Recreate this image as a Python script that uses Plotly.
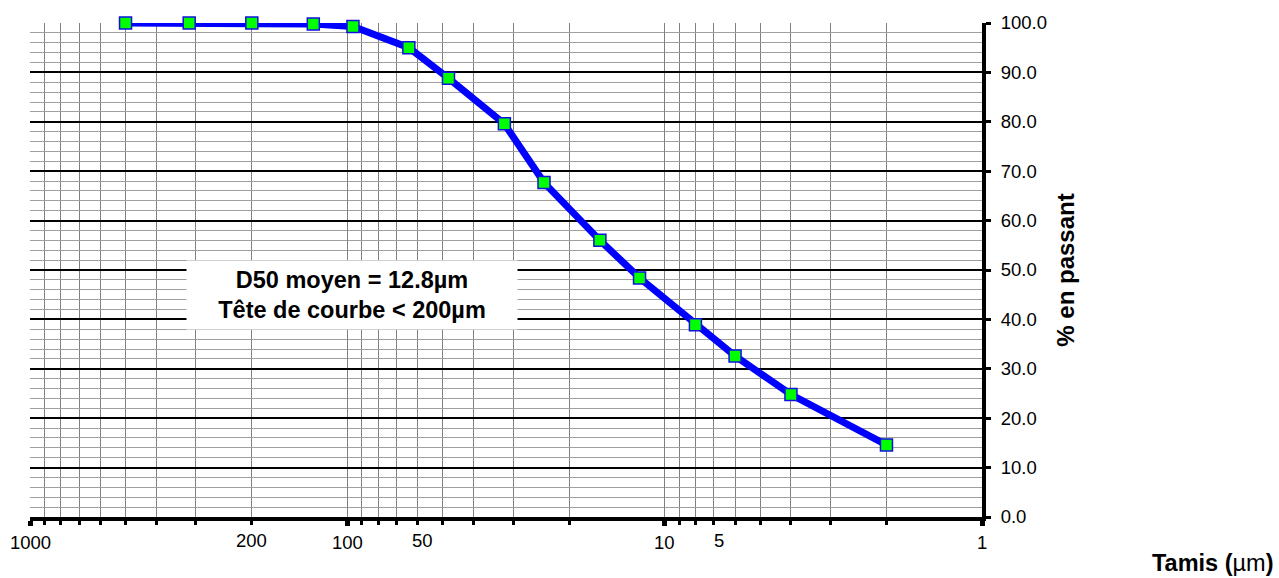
import math
import plotly.graph_objects as go

# ---- data ----
sizes_um = [500, 315, 200, 128, 96, 64, 48, 32, 24, 16, 12, 8, 6, 4, 2]
passing_pct = [100.0, 100.0, 100.0, 99.8, 99.3, 95.0, 88.8, 79.6, 67.7, 56.0, 48.4, 38.9, 32.6, 24.8, 14.6]

x_label_vals = [1000, 200, 100, 50, 10, 5, 1]
x_label_text = ["1000", "200", "100", "50", "10", "5", "1"]
y_tick_vals = [0, 10, 20, 30, 40, 50, 60, 70, 80, 90, 100]
y_tick_text = ["%.1f" % v for v in y_tick_vals]

note_lines = ["D50 moyen = 12.8µm", "Tête de courbe < 200µm"]
y_title = "% en passant"

# label offsets (style) as drawn in the original
label_xshift = {"50": -20, "5": -41}
label_yshift_raise = {"200": 2, "50": 2, "5": 2}

major_x = [1000, 100, 10, 1]
minor_x = [k * 10 ** d for d in range(0, 3) for k in range(2, 10)]

FONT = "Liberation Sans, Arial, sans-serif"
TICK_SIZE = 18.5

fig = go.Figure()
fig.add_trace(go.Scatter(
    x=sizes_um, y=passing_pct, mode="lines+markers",
    line=dict(color="#0000FF", width=7),
    marker=dict(symbol="square", size=12, color="#00FF00",
                line=dict(color="#1010E0", width=1.5)),
    cliponaxis=False, showlegend=False,
))

annotations = []
for v, t in zip(x_label_vals, x_label_text):
    annotations.append(dict(
        x=math.log10(v), y=0, xref="x", yref="paper",
        text=t, showarrow=False, xanchor="center", yanchor="middle",
        xshift=label_xshift.get(t, 0),
        yshift=-25 + label_yshift_raise.get(t, 0),
        font=dict(family=FONT, size=TICK_SIZE, color="#000000"),
    ))

annotations.append(dict(
    x=0.338, y=0.449, xref="paper", yref="paper",
    text="<br>".join("<b>%s</b>" % s for s in note_lines),
    showarrow=False, xanchor="center", yanchor="middle",
    bgcolor="#FFFFFF", width=322, height=60, borderpad=4,
    font=dict(family=FONT, size=23.5, color="#000000"),
))
annotations.append(dict(
    x=1.2426, y=-0.093, xref="paper", yref="paper",
    text="<b>Tamis (</b>µm<b>)</b>", showarrow=False,
    xanchor="center", yanchor="middle",
    font=dict(family=FONT, size=23.5, color="#000000"),
))

fig.update_layout(
    width=1279, height=578,
    margin=dict(l=30, r=297, t=23, b=61),
    paper_bgcolor="#FFFFFF", plot_bgcolor="#FFFFFF",
    font=dict(family=FONT, color="#000000"),
    annotations=annotations,
    xaxis=dict(
        type="log", range=[3, 0],
        tickvals=major_x, showticklabels=False,
        ticks="outside", ticklen=5, tickwidth=5, tickcolor="#000000",
        showgrid=True, gridcolor="#808080", gridwidth=1,
        showline=True, linecolor="#000000", linewidth=4,
        zeroline=False,
        minor=dict(tickvals=minor_x, ticks="outside", ticklen=4, tickwidth=3,
                   tickcolor="#000000", showgrid=True, gridcolor="#808080", gridwidth=1),
    ),
    yaxis=dict(
        side="right", range=[0, 100],
        tickvals=y_tick_vals, ticktext=y_tick_text,
        ticks="outside", ticklen=5, tickwidth=3, tickcolor="#000000",
        ticklabelstandoff=6,
        tickfont=dict(family=FONT, size=TICK_SIZE, color="#000000"),
        showgrid=True, gridcolor="#000000", gridwidth=2,
        showline=True, linecolor="#000000", linewidth=4,
        zeroline=False,
        minor=dict(dtick=2, showgrid=True, gridcolor="#A0A0A0", gridwidth=1),
        title=dict(text="<b>%s</b>" % y_title, standoff=12,
                   font=dict(family=FONT, size=24, color="#000000")),
    ),
)

fig.write_html(
    "out.html",
    config={"displayModeBar": False},
    post_script="document.body.style.margin='0';document.body.style.overflow='hidden';",
)
